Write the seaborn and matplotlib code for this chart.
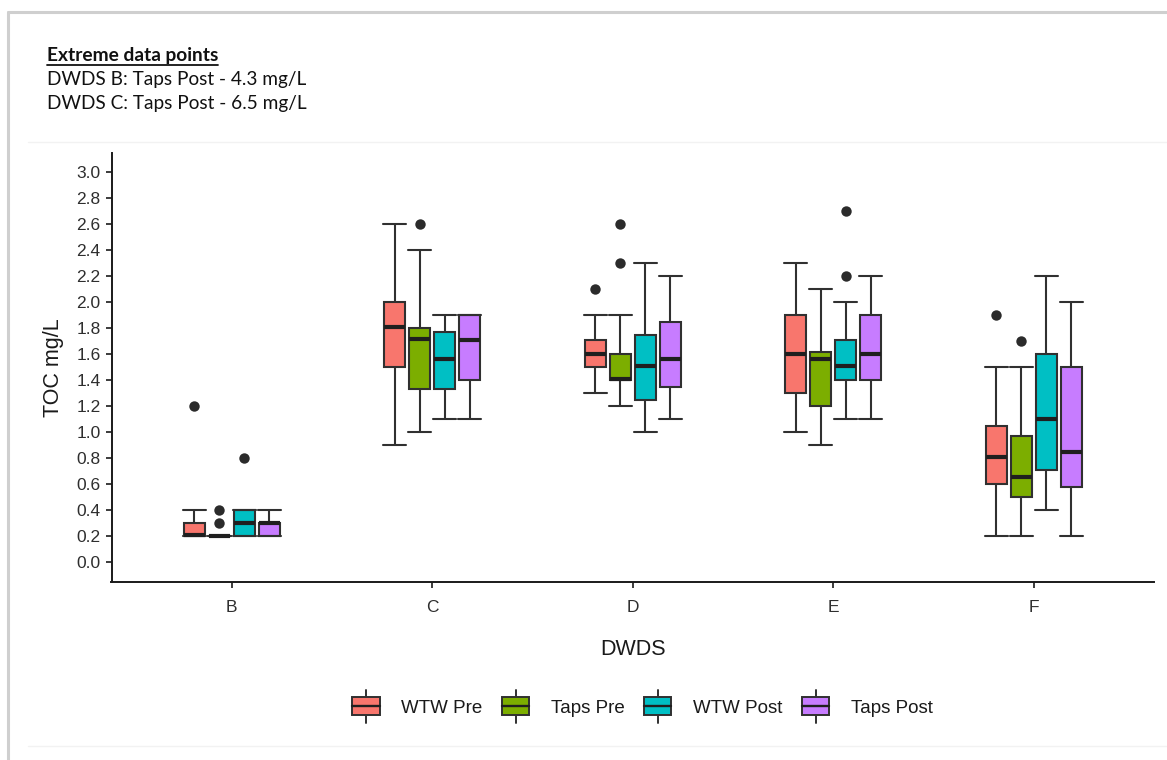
import numpy as np
import pandas as pd
import matplotlib
matplotlib.use("Agg")
import matplotlib.pyplot as plt
import seaborn as sns
from matplotlib.patches import Rectangle
from matplotlib.lines import Line2D
from matplotlib.legend_handler import HandlerBase

# ---------------- data ----------------
categories = ["B", "C", "D", "E", "F"]
groups = ["WTW Pre", "Taps Pre", "WTW Post", "Taps Post"]
colors = ["#F8766D", "#7CAE00", "#00BFC4", "#C77CFF"]

# five-number summaries per DWDS: [whisker low, Q1, median, Q3, whisker high]
wtw_pre = [[0.20, 0.20, 0.21, 0.30, 0.40],
           [0.90, 1.50, 1.81, 2.00, 2.60],
           [1.30, 1.50, 1.60, 1.71, 1.90],
           [1.00, 1.30, 1.60, 1.90, 2.30],
           [0.20, 0.60, 0.81, 1.05, 1.50]]
taps_pre = [[0.20, 0.20, 0.20, 0.20, 0.20],
            [1.00, 1.33, 1.72, 1.80, 2.40],
            [1.20, 1.40, 1.41, 1.60, 1.90],
            [0.90, 1.20, 1.56, 1.62, 2.10],
            [0.20, 0.50, 0.66, 0.97, 1.50]]
wtw_post = [[0.20, 0.20, 0.30, 0.40, 0.40],
            [1.10, 1.33, 1.56, 1.77, 1.90],
            [1.00, 1.25, 1.51, 1.75, 2.30],
            [1.10, 1.40, 1.51, 1.71, 2.00],
            [0.40, 0.71, 1.10, 1.60, 2.20]]
taps_post = [[0.20, 0.20, 0.30, 0.30, 0.40],
             [1.10, 1.40, 1.71, 1.90, 1.90],
             [1.10, 1.35, 1.56, 1.85, 2.20],
             [1.10, 1.40, 1.60, 1.90, 2.20],
             [0.20, 0.58, 0.85, 1.50, 2.00]]

# outliers
out_dwds = ["B", "B", "B", "B", "C", "D", "D", "D", "E", "E", "F", "F"]
out_group = ["WTW Pre", "Taps Pre", "Taps Pre", "WTW Post", "Taps Pre", "WTW Pre",
             "Taps Pre", "Taps Pre", "WTW Post", "WTW Post", "WTW Pre", "Taps Pre"]
out_value = [1.2, 0.3, 0.4, 0.8, 2.6, 2.1, 2.3, 2.6, 2.2, 2.7, 1.9, 1.7]

y_ticks = [round(0.2 * i, 1) for i in range(16)]

note_title = "Extreme data points"
note_lines = ["DWDS B: Taps Post - 4.3 mg/L", "DWDS C: Taps Post - 6.5 mg/L"]

# ---------------- tables ----------------
summaries = {"WTW Pre": wtw_pre, "Taps Pre": taps_pre,
             "WTW Post": wtw_post, "Taps Post": taps_post}
rows = []
for g in groups:
    for cat, five in zip(categories, summaries[g]):
        for v in five:
            rows.append({"DWDS": cat, "Group": g, "TOC": v})
box_df = pd.DataFrame(rows)

out_df = pd.DataFrame({"DWDS": out_dwds, "Group": out_group, "TOC": out_value})
out_df["rank"] = out_df.groupby(["DWDS", "Group"]).cumcount()

# ---------------- figure ----------------
sns.set_theme(style="ticks")
plt.rcParams["font.family"] = ["Liberation Sans", "DejaVu Sans"]

W, H = 1167, 760
fig = plt.figure(figsize=(W / 100, H / 100), dpi=100)
fig.patch.set_facecolor("white")
ax = fig.add_axes([111.5 / W, 1 - 582 / H, (1154 - 111.5) / W, (582 - 152.5) / H])

line_c = "#303030"
sns.boxplot(data=box_df, x="DWDS", y="TOC", hue="Group", order=categories,
            hue_order=groups, palette=colors, saturation=1, width=0.5, gap=0.16,
            whis=(0, 100), showfliers=False, linewidth=1.5, linecolor=line_c,
            medianprops=dict(color="#1f1f1f", linewidth=3.0),
            capwidths=0.115, legend=False, ax=ax)

for r in sorted(out_df["rank"].unique()):
    sub = out_df[out_df["rank"] == r]
    sns.pointplot(data=sub, x="DWDS", y="TOC", hue="Group", order=categories,
                  hue_order=groups, palette=["#2b2b2b"] * 4, dodge=0.375,
                  linestyle="none", markers="o", errorbar=None, legend=False,
                  markersize=7.5, markeredgewidth=0, ax=ax)

ax.set_xlim(-0.6, 4.6)
ax.set_ylim(-0.15, 3.15)
ax.set_yticks(y_ticks)
ax.set_yticklabels([f"{t:.1f}" for t in y_ticks])
ax.set_xlabel("DWDS", fontsize=15.5, color="#1a1a1a", labelpad=17)
ax.set_ylabel("TOC mg/L", fontsize=15.5, color="#1a1a1a", labelpad=9)
ax.tick_params(axis="both", labelsize=12.5, labelcolor="#2e2e2e", length=4,
               width=1.2, color="#1a1a1a")
ax.tick_params(axis="x", pad=9)
ax.tick_params(axis="y", pad=4)
for s in ["top", "right"]:
    ax.spines[s].set_visible(False)
for s in ["left", "bottom"]:
    ax.spines[s].set_linewidth(1.4)
    ax.spines[s].set_color("#1a1a1a")
ax.set_facecolor("white")


# ---------------- legend ----------------
class BoxHandler(HandlerBase):
    def create_artists(self, legend, orig_handle, xdescent, ydescent, width,
                       height, fontsize, trans):
        x0, y0 = -xdescent, -ydescent
        cx = x0 + width / 2
        cy = y0 + height / 2
        rect = Rectangle((x0, y0), width, height, facecolor=orig_handle.get_facecolor(),
                         edgecolor=line_c, linewidth=1.4, transform=trans)
        med = Line2D([x0, x0 + width], [cy, cy], color="#1f1f1f", lw=1.7,
                     transform=trans)
        w1 = Line2D([cx, cx], [y0 + height, y0 + height * 1.4], color=line_c,
                    lw=1.4, transform=trans)
        w2 = Line2D([cx, cx], [y0, y0 - height * 0.4], color=line_c, lw=1.4,
                    transform=trans)
        return [w1, w2, rect, med]


handles = [Rectangle((0, 0), 1, 1, facecolor=c) for c in colors]
fig.legend(handles, groups, handler_map={Rectangle: BoxHandler()},
           loc="center", bbox_to_anchor=(642.5 / W, 1 - 707 / H), ncol=4,
           frameon=False, fontsize=13.5, handlelength=1.45, handleheight=1.1,
           handletextpad=1.15, columnspacing=1.05, labelcolor="#1a1a1a")

# ---------------- annotation ----------------
note_font = ["Lato", "DejaVu Sans"]
t = fig.text(47 / W, 1 - 55 / H, note_title, fontsize=13.8, fontweight="bold",
             family=note_font, va="center", ha="left", color="#111111")
for i, ln in enumerate(note_lines):
    fig.text(47 / W, 1 - (79 + 24.5 * i) / H, ln, fontsize=13.7,
             family=note_font, va="center", ha="left", color="#111111")
fig.canvas.draw()
bb = t.get_window_extent()
fig.add_artist(Line2D([bb.x0 / W, bb.x1 / W], [(bb.y0 - 1.0) / H] * 2,
                      color="#111111", lw=1.3))

# frame decorations
fig.add_artist(Line2D([8 / W, 1], [1 - 12 / H] * 2, color="#cfcfcf", lw=2.2))
fig.add_artist(Line2D([8 / W, 8 / W], [0, 1 - 12 / H], color="#cfcfcf", lw=2.2))
fig.add_artist(Line2D([28 / W, 1], [1 - 142 / H] * 2, color="#f2f2f2", lw=1))
fig.add_artist(Line2D([28 / W, 1], [1 - 746 / H] * 2, color="#f2f2f2", lw=1))

fig.savefig("out.png", dpi=100)
